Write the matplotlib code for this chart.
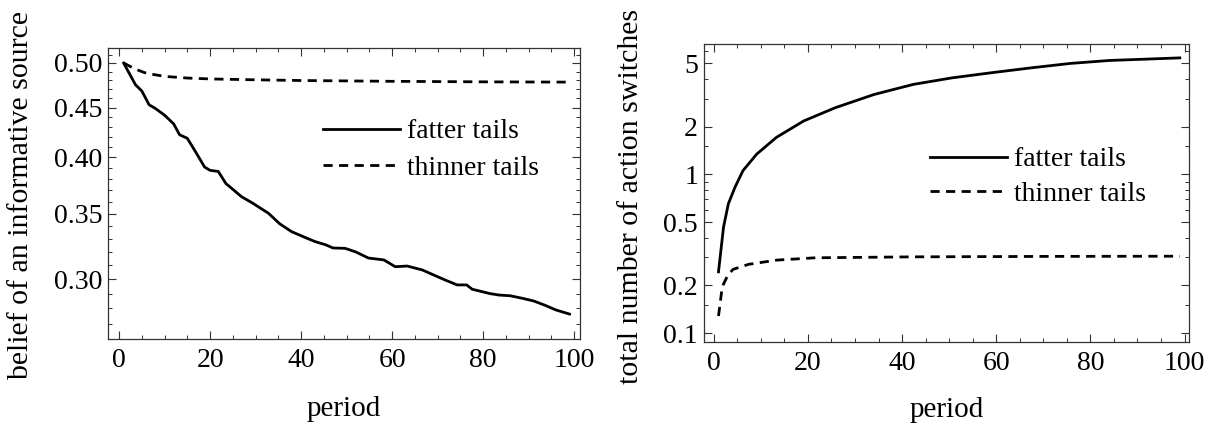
import matplotlib
matplotlib.use("Agg")
import matplotlib.pyplot as plt
from matplotlib.ticker import FixedLocator, NullFormatter

plt.rcParams['font.family'] = ['Liberation Serif', 'DejaVu Serif']

# left panel: belief of an informative source
belief_fat_x = [1, 3.6, 5, 6.6, 8, 10, 12, 13.3, 15, 17, 18.8, 20, 21.8, 23.5, 25, 26.9,
                29.4, 31, 32.8, 35.3, 37.9, 41.3, 43, 45.5, 47, 49.7, 52, 54.8, 58.2,
                60.7, 63.3, 66.6, 70, 72, 74.3, 76.4, 77.6, 81.5, 83.5, 86, 88.6, 91.1,
                93.7, 96, 99]
belief_fat_y = [0.500, 0.475, 0.468, 0.453, 0.449, 0.442, 0.433, 0.422, 0.4185, 0.404,
                0.391, 0.388, 0.387, 0.376, 0.371, 0.3646, 0.359, 0.355, 0.3507, 0.342,
                0.3357, 0.3305, 0.328, 0.3253, 0.323, 0.3227, 0.320, 0.3154, 0.314,
                0.309, 0.3095, 0.3067, 0.3018, 0.299, 0.296, 0.296, 0.293, 0.290,
                0.289, 0.2885, 0.2868, 0.285, 0.282, 0.279, 0.2763]
belief_thin_x = [1, 3.5, 6, 10, 15, 20, 30, 40, 60, 80, 99]
belief_thin_y = [0.500, 0.4929, 0.488, 0.4844, 0.4825, 0.4815, 0.4805, 0.4797, 0.4788,
                 0.4782, 0.4779]

# right panel: total number of action switches
switch_fat_x = [1, 2.07, 3.1, 4.5, 6.2, 9.1, 13.3, 19.1, 25.8, 34.1, 42.4, 50.7, 59,
                67.4, 75.7, 84, 99]
switch_fat_y = [0.243, 0.466, 0.653, 0.829, 1.056, 1.34, 1.71, 2.17, 2.63, 3.19, 3.69,
                4.06, 4.37, 4.69, 5.0, 5.22, 5.42]
switch_thin_x = [1, 1.8, 3, 4.1, 7.4, 13.3, 21.6, 42, 70, 99]
switch_thin_y = [0.128, 0.196, 0.232, 0.252, 0.271, 0.288, 0.298, 0.302, 0.304, 0.305]

legend_labels = ['fatter tails', 'thinner tails']
xticks = [0, 20, 40, 60, 80, 100]
left_yticks = [0.30, 0.35, 0.40, 0.45, 0.50]
left_yticklabels = ['0.30', '0.35', '0.40', '0.45', '0.50']
left_yminor = [0.27, 0.28, 0.29, 0.31, 0.32, 0.33, 0.34, 0.36, 0.37, 0.38, 0.39,
               0.41, 0.42, 0.43, 0.44, 0.46, 0.47, 0.48, 0.49, 0.51]
right_yticks = [0.1, 0.2, 0.5, 1, 2, 5]
right_yticklabels = ['0.1', '0.2', '0.5', '1', '2', '5']
right_yminor = [0.15, 0.3, 0.4, 0.6, 0.7, 0.8, 0.9, 1.5, 3, 4, 6]

W, H = 1214, 425
fig = plt.figure(figsize=(W / 100, H / 100), dpi=100)


def frac(x0, y0, x1, y1):
    return [x0 / W, 1 - y1 / H, (x1 - x0) / W, (y1 - y0) / H]


def style(ax):
    for s in ax.spines.values():
        s.set_linewidth(0.9)
        s.set_color('#333333')
    ax.tick_params(which='both', direction='in', top=True, right=True,
                   labelsize=20, color='#333333')
    ax.tick_params(axis='x', which='both', pad=6.5)
    ax.tick_params(axis='y', which='both', pad=4.3)
    ax.tick_params(which='major', length=5.8, width=0.8)
    ax.tick_params(which='minor', length=2.9, width=0.7)
    ax.xaxis.set_major_locator(FixedLocator(xticks))
    ax.xaxis.set_minor_locator(FixedLocator(list(range(0, 101, 5))))
    ax.yaxis.set_minor_formatter(NullFormatter())


lw = 2.0
dash = (0, (3.3, 2.3))

ax1 = fig.add_axes(frac(108, 48, 580, 339))
ax1.plot(belief_fat_x, belief_fat_y, color='black', lw=lw, label=legend_labels[0])
ax1.plot(belief_thin_x, belief_thin_y, color='black', lw=lw, ls=dash, label=legend_labels[1])
ax1.set_yscale('log')
ax1.set_xlim(-2.43, 101.3)
ax1.set_ylim(0.2605, 0.518)
ax1.yaxis.set_major_locator(FixedLocator(left_yticks))
ax1.set_yticklabels(left_yticklabels)
ax1.yaxis.set_minor_locator(FixedLocator(left_yminor))
style(ax1)
ax1.legend(loc='upper left', bbox_to_anchor=(0.455, 0.756), frameon=False, fontsize=20,
           handlelength=2.77, handletextpad=0.25, labelspacing=0.4,
           borderaxespad=0, borderpad=0)
ax1.set_xlabel('period', fontsize=21)
ax1.xaxis.set_label_coords(0.5, -0.196)

ax2 = fig.add_axes(frac(704, 44, 1189, 342))
ax2.plot(switch_fat_x, switch_fat_y, color='black', lw=lw, label=legend_labels[0])
ax2.plot(switch_thin_x, switch_thin_y, color='black', lw=lw, ls=dash, label=legend_labels[1])
ax2.set_yscale('log')
ax2.set_xlim(-2.08, 100.95)
ax2.set_ylim(0.0878, 6.63)
ax2.yaxis.set_major_locator(FixedLocator(right_yticks))
ax2.set_yticklabels(right_yticklabels)
ax2.yaxis.set_minor_locator(FixedLocator(right_yminor))
style(ax2)
ax2.legend(loc='upper left', bbox_to_anchor=(0.466, 0.655), frameon=False, fontsize=20,
           handlelength=2.77, handletextpad=0.25, labelspacing=0.33,
           borderaxespad=0, borderpad=0)
ax2.set_xlabel('period', fontsize=21)
ax2.xaxis.set_label_coords(0.5, -0.186)

fig.text(21.5 / W, 1 - 195 / H, 'belief of an informative source', rotation=90,
         ha='center', va='center', fontsize=21.5)
fig.text(631.5 / W, 1 - 196 / H, 'total number of action switches', rotation=90,
         ha='center', va='center', fontsize=21.5)

fig.savefig('out.png', dpi=100)
